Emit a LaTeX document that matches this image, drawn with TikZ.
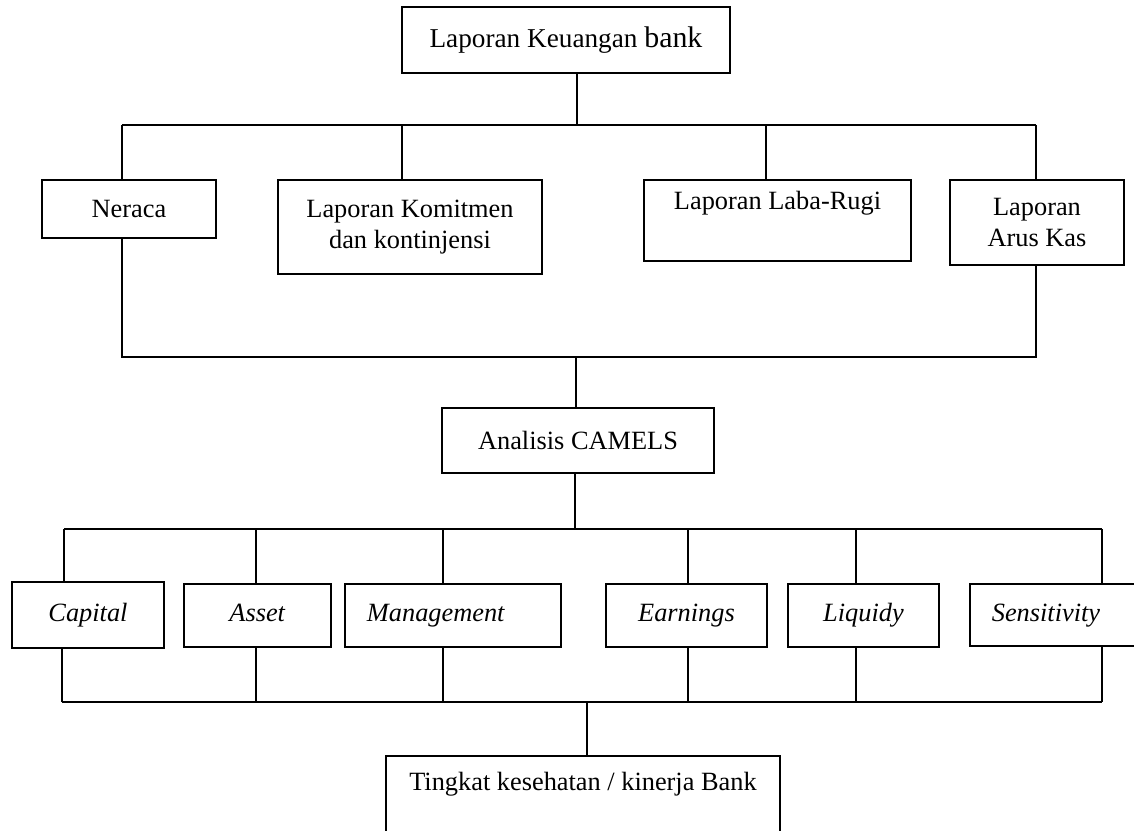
\documentclass[tikz,border=0pt]{standalone}
\usepackage{fontspec}
\setmainfont{Liberation Serif}
\begin{document}
\begin{tikzpicture}[x=0.02cm,y=-0.02cm,
        kotak/.style={shape=rectangle,draw=black,line width=0.9pt,inner sep=0pt,align=center,font=\fontsize{15}{17.5}\selectfont},
        garis/.style={line width=0.8pt}]
            \useasboundingbox (0,0) rectangle (1134,831);
            \clip (0,0) rectangle (1134,831);

            \node[kotak, minimum width=6.56cm, minimum height=1.32cm] (lk) at (566,40) {\fontsize{15.5}{18}\selectfont Laporan Keuangan {\fontsize{17}{18}\selectfont bank}};

            \node[kotak, minimum width=3.48cm, minimum height=1.16cm] (neraca) at (129,209) {Neraca};
            \node[kotak, minimum width=5.28cm, minimum height=1.88cm] (komitmen) at (410,227) {Laporan Komitmen\\dan kontinjensi};
            \node[kotak, minimum width=5.34cm, minimum height=1.62cm] (labarugi) at (777.5,220.5) {Laporan Laba-Rugi\\ \strut};
            \node[kotak, minimum width=3.48cm, minimum height=1.70cm] (aruskas) at (1037,222.5) {Laporan\\Arus Kas};

            \node[kotak, minimum width=5.44cm, minimum height=1.30cm] (camels) at (578,440.5) {Analisis CAMELS};

            \node[kotak, minimum width=3.04cm, minimum height=1.32cm] (capital) at (88,615) {\strut\textit{Capital}};
            \node[kotak, minimum width=2.94cm, minimum height=1.26cm] (asset) at (257.5,615.5) {\strut\textit{Asset}};
            \node[kotak, minimum width=4.32cm, minimum height=1.26cm] (management) at (453,615.5) {\strut\textit{Management}\hspace{0.68cm}};
            \node[kotak, minimum width=3.22cm, minimum height=1.26cm] (earnings) at (686.5,615.5) {\strut\textit{Earnings}};
            \node[kotak, minimum width=3.02cm, minimum height=1.26cm] (liquidy) at (863.5,615.5) {\strut\textit{Liquidy}};
            \node[kotak, minimum width=3.40cm, minimum height=1.24cm] (sensitivity) at (1055,615) {\raisebox{-3pt}{\strut\textit{Sensitivity}}\hspace{0.36cm}};

            \node[kotak, minimum width=7.88cm, minimum height=1.80cm] (tingkat) at (583,801) {Tingkat kesehatan / kinerja Bank\\ \strut};

            %Garis atas
            \coordinate (a0) at (577,125);
            \coordinate (a1) at (122,125);
            \coordinate (a2) at (402,125);
            \coordinate (a3) at (766,125);
            \coordinate (a4) at (1036,125);
            \draw[garis] (lk.south -| a0) -- (a0);
            \draw[garis] (a1) -- (a4);
            \draw[garis] (a1) -- (a1 |- neraca.north);
            \draw[garis] (a2) -- (a2 |- komitmen.north);
            \draw[garis] (a3) -- (a3 |- labarugi.north);
            \draw[garis] (a4) -- (a4 |- aruskas.north);

            \coordinate (b0) at (576,357);
            \coordinate (b1) at (122,357);
            \coordinate (b4) at (1036,357);
            \draw[garis] (neraca.south -| b1) -- (b1) -- (b4) -- (aruskas.south -| b4);
            \draw[garis] (b0) -- (b0 |- camels.north);

            %Garis CAMELS
            \coordinate (c0) at (575,529);
            \coordinate (c1) at (64,529);
            \coordinate (c2) at (256,529);
            \coordinate (c3) at (443,529);
            \coordinate (c4) at (688,529);
            \coordinate (c5) at (856,529);
            \coordinate (c6) at (1102,529);
            \draw[garis] (camels.south -| c0) -- (c0);
            \draw[garis] (c1) -- (c6);
            \draw[garis] (c1) -- (c1 |- capital.north);
            \draw[garis] (c2) -- (c2 |- asset.north);
            \draw[garis] (c3) -- (c3 |- management.north);
            \draw[garis] (c4) -- (c4 |- earnings.north);
            \draw[garis] (c5) -- (c5 |- liquidy.north);
            \draw[garis] (c6) -- (c6 |- sensitivity.north);

            \coordinate (d0) at (587,702);
            \coordinate (d1) at (62,702);
            \coordinate (d2) at (256,702);
            \coordinate (d3) at (443,702);
            \coordinate (d4) at (688,702);
            \coordinate (d5) at (856,702);
            \coordinate (d6) at (1102,702);
            \draw[garis] (d1) -- (d6);
            \draw[garis] (d1) -- (d1 |- capital.south);
            \draw[garis] (d2) -- (d2 |- asset.south);
            \draw[garis] (d3) -- (d3 |- management.south);
            \draw[garis] (d4) -- (d4 |- earnings.south);
            \draw[garis] (d5) -- (d5 |- liquidy.south);
            \draw[garis] (d6) -- (d6 |- sensitivity.south);
            \draw[garis] (d0) -- (d0 |- tingkat.north);
        \end{tikzpicture}
\end{document}
